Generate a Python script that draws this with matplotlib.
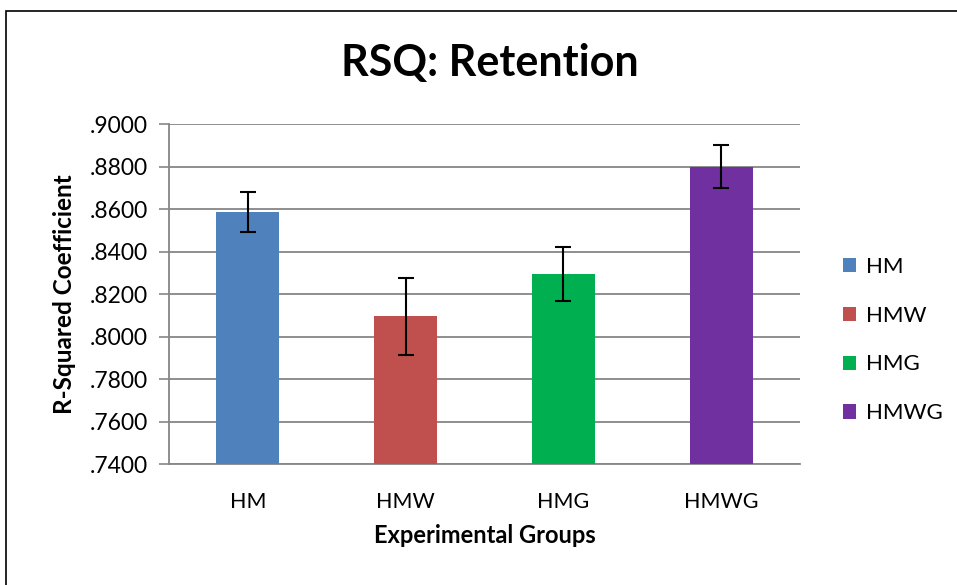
import matplotlib
matplotlib.use("Agg")
import matplotlib.pyplot as plt
from matplotlib.patches import Rectangle, Patch

categories = ["HM", "HMW", "HMG", "HMWG"]
values = [0.8585, 0.8095, 0.8293, 0.8800]
errors = [0.0095, 0.0180, 0.0127, 0.0100]
colors = ["#4F81BD", "#C0504D", "#00B050", "#7030A0"]
yticks = [0.74, 0.76, 0.78, 0.80, 0.82, 0.84, 0.86, 0.88, 0.90]
ytick_labels = [".7400", ".7600", ".7800", ".8000", ".8200", ".8400", ".8600", ".8800", ".9000"]

plt.rcParams['font.family'] = ['Lato', 'DejaVu Sans']

W, H = 957, 585
fig = plt.figure(figsize=(W / 100, H / 100), dpi=100)
fig.patch.set_facecolor("white")

# outer frame
fig.add_artist(Rectangle((6 / W, -0.01), 1.02, 1 - 11 / H + 0.01, transform=fig.transFigure,
                         fill=False, edgecolor="black", linewidth=1.2))

left, right, top, bottom = 169, 800, 124, 464
ax = fig.add_axes([left / W, 1 - bottom / H, (right - left) / W, (bottom - top) / H])

x = range(len(categories))
ax.bar(x, [v - yticks[0] for v in values], bottom=yticks[0], width=0.4, color=colors, zorder=3)
ax.errorbar(x, values, yerr=errors, fmt="none", ecolor="black", elinewidth=1.5,
            capsize=6, capthick=1.5, zorder=4)

ax.set_xlim(-0.5, len(categories) - 0.5)
ax.set_ylim(yticks[0], yticks[-1])
ax.set_yticks(yticks)
ax.set_yticklabels(ytick_labels, fontsize=16.5)
ax.set_xticks(list(x))
ax.set_xticklabels(categories, fontsize=15.5)
ax.tick_params(axis="x", length=0, pad=20)
ax.tick_params(axis="y", length=7, width=1.2, color="#868686", pad=8)

ax.grid(axis="y", color="#868686", linewidth=1.3, zorder=0)
for s in ["top", "right"]:
    ax.spines[s].set_visible(False)
for s in ["left", "bottom"]:
    ax.spines[s].set_color("#868686")
    ax.spines[s].set_linewidth(1.3)

ax.set_ylabel("R-Squared Coefficient", fontsize=17.5, fontweight="bold", labelpad=10)
ax.set_xlabel("Experimental Groups", fontsize=17, fontweight="bold", labelpad=9)

fig.text(490 / W, 1 - 63 / H, "RSQ: Retention", fontsize=31, fontweight="bold",
         ha="center", va="center")

handles = [Patch(facecolor=c, edgecolor="none") for c in colors]
leg = fig.legend(handles, categories, loc="center left", bbox_to_anchor=(823 / W, 1 - 340 / H),
                 frameon=False, fontsize=16, handlelength=0.6, handleheight=0.6,
                 handletextpad=0.45, labelspacing=1.3)

fig.savefig("out.png", dpi=100, facecolor="white")
